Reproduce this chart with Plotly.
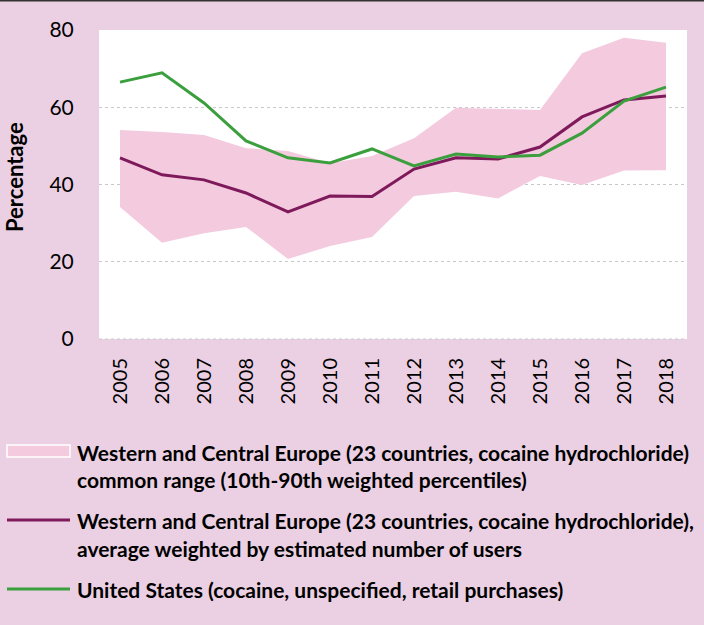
import plotly.graph_objects as go

years = [str(y) for y in range(2005, 2019)]
us_retail = [66.5, 68.9, 61.1, 51.3, 46.9, 45.6, 49.2, 44.8, 47.9, 47.1, 47.6, 53.3, 61.6, 65.2]
wce_avg = [46.9, 42.5, 41.2, 37.8, 32.9, 37.0, 36.9, 44.0, 46.9, 46.6, 49.7, 57.5, 61.9, 62.9]
wce_p90 = [54.1, 53.6, 52.8, 49.4, 48.7, 45.5, 47.4, 52.0, 59.9, 59.6, 59.3, 74.0, 78.0, 76.7]
wce_p10 = [34.2, 24.9, 27.4, 29.0, 20.7, 24.1, 26.4, 37.0, 38.1, 36.4, 42.2, 39.9, 43.6, 43.7]
y_ticks = [0, 20, 40, 60, 80]
y_title = "Percentage"
legend_labels = [
    ["Western and Central Europe (23 countries, cocaine hydrochloride)",
     "common range (10th-90th weighted percentiles)"],
    ["Western and Central Europe (23 countries, cocaine hydrochloride),",
     "average weighted by estimated number of users"],
    ["United States (cocaine, unspecified, retail purchases)"],
]

BG = "#EBD0E3"
BAND = "#F4CADF"
PURPLE = "#7E1A5B"
GREEN = "#3A9F3C"
FONT = "Lato"

W, H = 704, 625
L, R, T, B = 99, 17, 30, 286
PW, PH = W - L - R, H - T - B


def px(x):
    return (x - L) / PW


def py(y):
    return (H - B - y) / PH


fig = go.Figure()
fig.add_trace(go.Scatter(x=years, y=wce_p10, mode="lines", line=dict(width=0),
                         showlegend=False, hoverinfo="skip"))
fig.add_trace(go.Scatter(x=years, y=wce_p90, mode="lines", line=dict(width=0),
                         fill="tonexty", fillcolor=BAND, showlegend=False))
fig.add_trace(go.Scatter(x=years, y=wce_avg, mode="lines",
                         line=dict(color=PURPLE, width=3), showlegend=False))
fig.add_trace(go.Scatter(x=years, y=us_retail, mode="lines",
                         line=dict(color=GREEN, width=3), showlegend=False))

shapes = [
    dict(type="line", xref="paper", yref="paper", x0=px(0), x1=px(W), y0=py(0.5), y1=py(0.5),
         line=dict(color="#333333", width=2)),
    dict(type="line", xref="paper", yref="paper", x0=0, x1=1, y0=0, y1=0,
         line=dict(color="#C8C8C8", width=1, dash="dot")),
    dict(type="rect", xref="paper", yref="paper", x0=px(7), x1=px(70), y0=py(445), y1=py(457),
         fillcolor=BAND, line=dict(color="white", width=1.5)),
    dict(type="line", xref="paper", yref="paper", x0=px(7), x1=px(70), y0=py(520), y1=py(520),
         line=dict(color=PURPLE, width=3)),
    dict(type="line", xref="paper", yref="paper", x0=px(7), x1=px(70), y0=py(589), y1=py(589),
         line=dict(color=GREEN, width=3)),
]

line_y = [[452, 479], [520, 548], [589]]
annotations = []
for labels, ys in zip(legend_labels, line_y):
    for txt, yy in zip(labels, ys):
        annotations.append(dict(xref="paper", yref="paper", x=px(75), y=py(yy),
                                xanchor="left", yanchor="middle", showarrow=False,
                                text="<b>" + txt + "</b>",
                                font=dict(family=FONT, size=21, color="black")))
annotations.append(dict(xref="paper", yref="paper", x=px(14), y=py(177),
                        xanchor="center", yanchor="middle", showarrow=False, textangle=-90,
                        text="<b>" + y_title + "</b>",
                        font=dict(family=FONT, size=22, color="black")))

fig.update_layout(
    width=W, height=H,
    margin=dict(l=L, r=R, t=T, b=B),
    paper_bgcolor=BG, plot_bgcolor="white",
    font=dict(family=FONT, color="black"),
    shapes=shapes, annotations=annotations,
    showlegend=False,
    xaxis=dict(type="category", range=[-0.5, 13.5], tickangle=-90,
               tickfont=dict(size=20), showgrid=False, zeroline=False, automargin=False,
               showline=False, ticks="outside", ticklen=10, tickcolor="rgba(0,0,0,0)"),
    yaxis=dict(range=[0, 80], tickvals=y_ticks, tickfont=dict(size=21), automargin=False,
               showgrid=True, gridcolor="#C8C8C8", griddash="dot", gridwidth=1,
               zeroline=False, showline=False,
               ticks="outside", ticklen=20, tickcolor="rgba(0,0,0,0)"),
)

fig.write_html("out.html", config={"displayModeBar": False},
               post_script="document.body.style.margin='0';")
